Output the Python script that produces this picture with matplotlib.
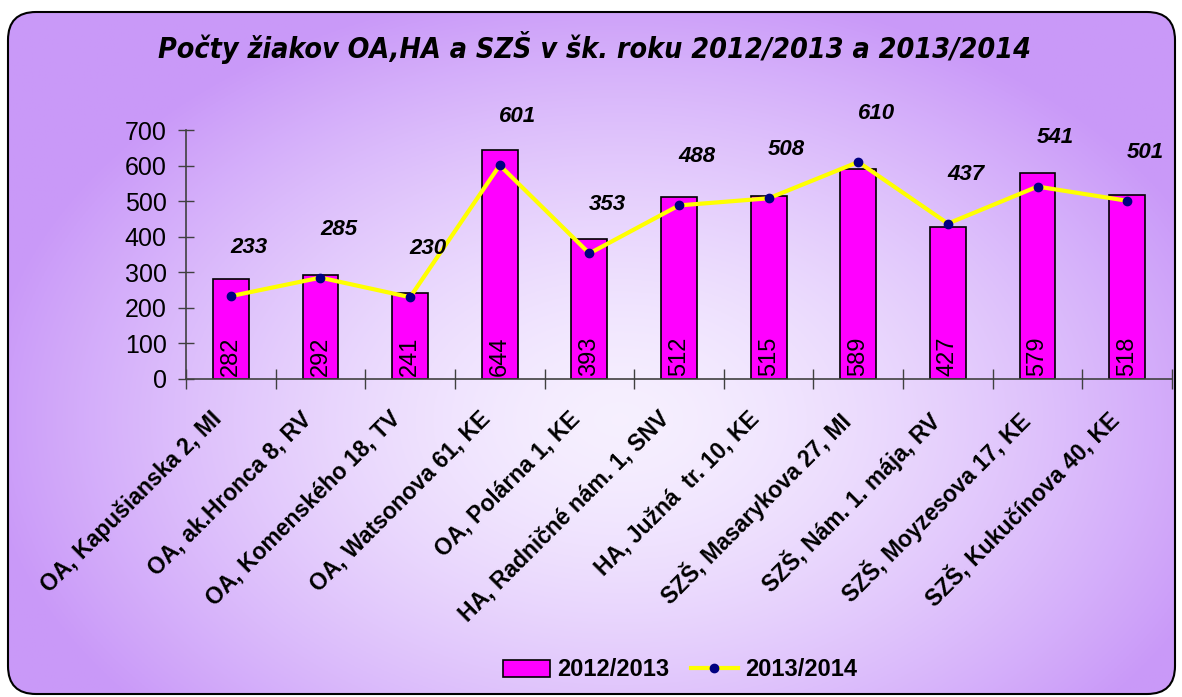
import matplotlib
matplotlib.use("Agg")
import matplotlib.pyplot as plt
import numpy as np
from matplotlib.patches import FancyBboxPatch
from matplotlib.lines import Line2D
from matplotlib.patches import Patch
from matplotlib.transforms import ScaledTranslation
from matplotlib import font_manager

categories = ["OA, Kapušianska 2, MI", "OA, ak.Hronca 8, RV", "OA, Komenského 18, TV",
              "OA, Watsonova 61, KE", "OA, Polárna 1, KE", "HA, Radničné nám. 1, SNV",
              "HA, Južná  tr. 10, KE", "SZŠ, Masarykova 27, MI", "SZŠ, Nám. 1. mája, RV",
              "SZŠ, Moyzesova 17, KE", "SZŠ, Kukučínova 40, KE"]
values_2012 = [282, 292, 241, 644, 393, 512, 515, 589, 427, 579, 518]
values_2013 = [233, 285, 230, 601, 353, 488, 508, 610, 437, 541, 501]
yticks = [0, 100, 200, 300, 400, 500, 600, 700]
title = "Počty žiakov OA,HA a SZŠ v šk. roku 2012/2013 a 2013/2014"
series_names = ["2012/2013", "2013/2014"]

W, H = 1182, 697
fig = plt.figure(figsize=(W / 100, H / 100), dpi=100)
fig.patch.set_facecolor("white")

# background with radial gradient in a rounded box
bg = fig.add_axes([0, 0, 1, 1], zorder=-5)
bg.set_xlim(0, W)
bg.set_ylim(H, 0)
bg.axis("off")
xx, yy = np.meshgrid(np.linspace(0, W, 400), np.linspace(0, H, 240))
r = np.sqrt(((xx - 620) / 640) ** 2 + ((yy - 420) / 440) ** 2)
t = np.clip(r, 0, 1) ** 1.5
light = np.array([0.965, 0.94, 1.0])
dark = np.array([0.79, 0.60, 0.975])
img = light[None, None, :] + (dark - light)[None, None, :] * t[..., None]
box = FancyBboxPatch((8, 12), 1167, 682, boxstyle="round,pad=0,rounding_size=28",
                     transform=bg.transData, facecolor="none", edgecolor="black", lw=1.5, zorder=3)
im = bg.imshow(img, extent=(0, W, H, 0), aspect="auto", zorder=1)
bg.add_patch(box)
im.set_clip_path(box)

# title font: prefer a condensed face
title_kw = dict(family="Liberation Sans", fontsize=21)
names = {f.name for f in font_manager.fontManager.ttflist}
if "Liberation Sans Narrow" in names:
    title_kw = dict(family="Liberation Sans Narrow", fontsize=26)
else:
    for f in font_manager.fontManager.ttflist:
        if f.name == "DejaVu Sans" and f.stretch in ("condensed", "semi-condensed"):
            title_kw = dict(family="DejaVu Sans", stretch="condensed", fontsize=20.5)
            break

fig.text(594 / W, 1 - 47 / H, title, ha="center", va="center",
         fontweight="bold", fontstyle="italic", **title_kw)

ax = fig.add_axes([186 / W, 1 - 379 / H, (1172 - 186) / W, (379 - 130) / H])
ax.patch.set_alpha(0)
x = np.arange(len(categories))
bars = ax.bar(x, values_2012, width=0.4, color="#ff00ff", edgecolor="black", lw=1.2, zorder=2)
ax.plot(x, values_2013, color="#ffff00", lw=3, marker="o", markersize=6,
        markerfacecolor="#000080", markeredgecolor="#000080", zorder=3)

for xi, v in zip(x, values_2012):
    ax.text(xi, 8, str(v), rotation=90, ha="center", va="bottom", fontsize=17,
            family="Liberation Sans", zorder=4)
for xi, v in zip(x, values_2013):
    ax.annotate(str(v), (xi, v), xytext=(13, 35), textcoords="offset points",
                ha="center", va="center", fontsize=16, fontweight="bold",
                fontstyle="italic", family="Liberation Sans", zorder=4)

ax.set_xlim(-0.5, len(categories) - 0.5)
ax.set_ylim(0, 700)
ax.set_yticks(yticks)
ax.set_yticklabels([str(v) for v in yticks], fontsize=18, family="Liberation Sans")
ax.tick_params(axis="y", direction="inout", length=12, width=1, color="#404040", pad=8)
ax.set_xticks(x)
ax.set_xticklabels(categories, rotation=45, ha="right", va="top", rotation_mode="anchor",
                   fontsize=16.5, fontweight="bold", family="Liberation Sans")
ax.tick_params(axis="x", length=0, pad=16)
shift = ScaledTranslation(-0.21, -0.06, fig.dpi_scale_trans)
for lbl in ax.get_xticklabels():
    lbl.set_transform(lbl.get_transform() + shift)
ax.set_xticks(np.arange(-0.5, len(categories), 1), minor=True)
ax.tick_params(axis="x", which="minor", direction="inout", length=14, width=1, color="#404040")
for s in ["top", "right"]:
    ax.spines[s].set_visible(False)
for s in ["left", "bottom"]:
    ax.spines[s].set_color("#404040")
    ax.spines[s].set_linewidth(1.2)

handles = [Patch(facecolor="#ff00ff", edgecolor="black", lw=1.2, label=series_names[0]),
           Line2D([0], [0], color="#ffff00", lw=3, marker="o", markersize=6,
                  markerfacecolor="#000080", markeredgecolor="#000080", label=series_names[1])]
fig.legend(handles=handles, loc="center", bbox_to_anchor=(680 / W, 1 - 670 / H), ncol=2,
           frameon=False, prop={"family": "Liberation Sans", "weight": "bold", "size": 17},
           handlelength=2.0, handletextpad=0.3, columnspacing=0.9)

fig.savefig("out.png", dpi=100)
